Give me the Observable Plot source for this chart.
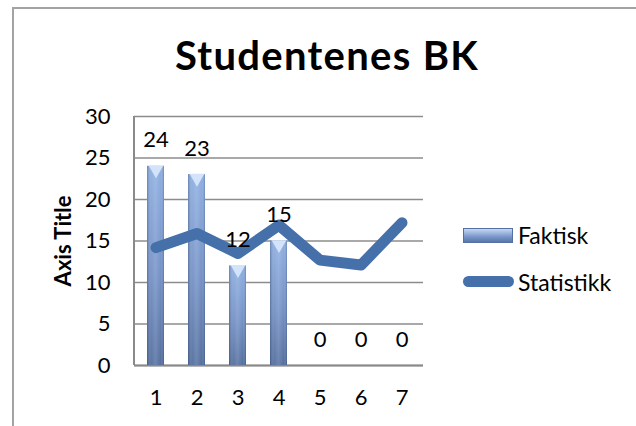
<!DOCTYPE html>
<html>
<head>
<meta charset="utf-8">
<script src="https://cdn.jsdelivr.net/npm/d3@7"></script>
<script src="https://cdn.jsdelivr.net/npm/@observablehq/plot@0.6"></script>
<style>
  body { margin: 0; background: #fff; font-family: Lato, "Open Sans", sans-serif; }
  #wrap { position: relative; width: 636px; height: 426px; overflow: hidden; }
  #frame { position: absolute; left: 12px; top: 7px; width: 650px; height: 450px; border: 2px solid #a3a3a3; box-sizing: border-box; }
  #title { position: absolute; left: 0; width: 654px; top: 33px; text-align: center; font-weight: bold; font-size: 40px; line-height: 44px; color: #000; letter-spacing: 1.3px; }
  #ytitle { position: absolute; left: 62px; top: 241px; transform: translate(-50%, -50%) rotate(-90deg); font-weight: bold; font-size: 22px; white-space: nowrap; }
  .leg { position: absolute; font-size: 23px; line-height: 26px; color: #000; }
  #sw1 { position: absolute; left: 463px; top: 228px; width: 50px; height: 15px; box-sizing: border-box;
         background: linear-gradient(#c4d8f4, #7896c9 60%, #5a76a8); border: 1px solid #56719f; }
  #sw2 { position: absolute; left: 463px; top: 276px; width: 51px; height: 11px; border-radius: 5.5px; background: #4570a9; }
  svg { position: absolute; left: 0; top: 0; }
</style>
</head>
<body>
<div id="wrap">
  <div id="frame"></div>
  <div id="chart"></div>
  <div id="title"></div>
  <div id="ytitle"></div>
  <div id="sw1"></div><div class="leg" id="l1"></div>
  <div id="sw2"></div><div class="leg" id="l2"></div>
</div>
<script>
const titleText = "Studentenes BK";
const yAxisTitle = "Axis Title";
const categories = ["1", "2", "3", "4", "5", "6", "7"];
const faktisk = [24, 23, 12, 15, 0, 0, 0];
const statistikk = [14.2, 15.9, 13.5, 16.9, 12.7, 12.1, 17.2];
const seriesNames = ["Faktisk", "Statistikk"];
const yTicks = [0, 5, 10, 15, 20, 25, 30];

document.getElementById("title").textContent = titleText;
document.getElementById("ytitle").textContent = yAxisTitle;
const l1 = document.getElementById("l1"); l1.textContent = seriesNames[0];
l1.style.left = "518px"; l1.style.top = "222px";
const l2 = document.getElementById("l2"); l2.textContent = seriesNames[1];
l2.style.left = "518px"; l2.style.top = "269px";

const bars = categories.map((c, i) => ({cat: c, v: faktisk[i]}));
const lineData = categories.map((c, i) => ({cat: c, v: statistikk[i]}));
const nonZero = bars.filter(d => d.v > 0);

const defs = () => {
  const g = d3.create("svg:defs");
  const v = g.append("linearGradient").attr("id", "gv").attr("x1", 0).attr("y1", 0).attr("x2", 0).attr("y2", 1);
  v.append("stop").attr("offset", "0%").attr("stop-color", "#90b0e2");
  v.append("stop").attr("offset", "55%").attr("stop-color", "#7592c6");
  v.append("stop").attr("offset", "100%").attr("stop-color", "#55709f");
  const h = g.append("linearGradient").attr("id", "gh").attr("x1", 0).attr("y1", 0).attr("x2", 1).attr("y2", 0);
  h.append("stop").attr("offset", "0%").attr("stop-color", "#1c2f55").attr("stop-opacity", 0.35);
  h.append("stop").attr("offset", "25%").attr("stop-color", "#ffffff").attr("stop-opacity", 0.04);
  h.append("stop").attr("offset", "50%").attr("stop-color", "#ffffff").attr("stop-opacity", 0.14);
  h.append("stop").attr("offset", "80%").attr("stop-color", "#ffffff").attr("stop-opacity", 0.0);
  h.append("stop").attr("offset", "100%").attr("stop-color", "#1c2f55").attr("stop-opacity", 0.3);
  return g.node();
};

const leftAxisLine = (index, scales, values, dims) => {
  const s = d3.create("svg:line")
    .attr("x1", dims.marginLeft).attr("x2", dims.marginLeft)
    .attr("y1", scales.y(yTicks[0])).attr("y2", scales.y(yTicks[yTicks.length - 1]))
    .attr("stroke", "#8a8a8a").attr("stroke-width", 2);
  return s.node();
};

const chart = Plot.plot({
  width: 636,
  height: 426,
  marginLeft: 134,
  marginRight: 213,
  marginTop: 116,
  marginBottom: 61,
  style: {fontFamily: "Lato, 'Open Sans', sans-serif", background: "transparent", color: "#000"},
  x: {type: "band", domain: categories, padding: 0},
  y: {domain: [0, 30]},
  marks: [
    defs,
    Plot.gridY(yTicks, {stroke: "#8c8c8c", strokeOpacity: 1, strokeWidth: 1.5}),
    Plot.ruleY([0], {stroke: "#8a8a8a", strokeWidth: 2}),
    leftAxisLine,
    Plot.axisY({ticks: yTicks, tickSize: 0, tickPadding: 24, fontSize: 22, label: null}),
    Plot.axisX({tickSize: 0, tickPadding: 24, fontSize: 22, label: null}),
    Plot.barY(nonZero, {x: "cat", y: "v", fill: "url(#gv)", insetLeft: 12, insetRight: 12}),
    Plot.barY(nonZero, {x: "cat", y: "v", fill: "url(#gh)", insetLeft: 12, insetRight: 12}),
    Plot.dot(nonZero, {x: "cat", y: "v", symbol: "triangle", rotate: 180, r: 5.5, dy: 3.5, fill: "#d3e4fa", stroke: "none"}),
    Plot.lineY(lineData, {x: "cat", y: "v", stroke: "#4570a9", strokeWidth: 11, strokeLinejoin: "round", strokeLinecap: "round"}),
    Plot.text(bars, {x: "cat", y: "v", text: d => String(d.v), dy: -26, fontSize: 22, fill: "#000"})
  ]
});
document.getElementById("chart").appendChild(chart);
</script>
</body>
</html>
